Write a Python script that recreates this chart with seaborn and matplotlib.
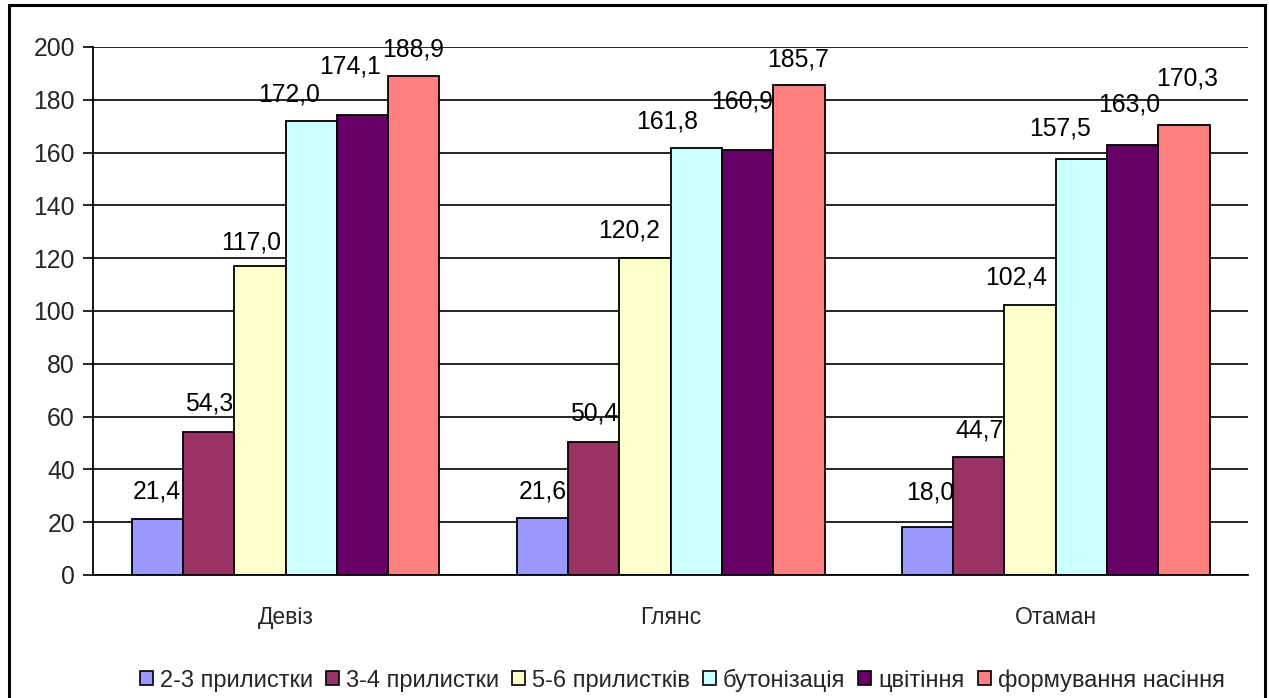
import numpy as np
import pandas as pd
import matplotlib
matplotlib.use("Agg")
import matplotlib.pyplot as plt
import seaborn as sns
from matplotlib.patches import Rectangle

varieties = ["Девіз", "Глянс", "Отаман"]
stages = ["2-3 прилистки", "3-4 прилистки", "5-6 прилистків",
          "бутонізація", "цвітіння", "формування насіння"]
deviz = [21.4, 54.3, 117.0, 172.0, 174.1, 188.9]
hlyans = [21.6, 50.4, 120.2, 161.8, 160.9, 185.7]
otaman = [18.0, 44.7, 102.4, 157.5, 163.0, 170.3]
y_ticks = [0, 20, 40, 60, 80, 100, 120, 140, 160, 180, 200]

colors = ["#9999FF", "#993366", "#FFFFCC", "#CCFFFF", "#660066", "#FF8080"]

# label nudges in pixels (dx, dy above bar top), per variety then stage
label_dx = [[0, 1, -9, -22, -12, -1],
            [1, 1, -16, -29, -5, -1],
            [3, 1, -14, -21, -3, 3]]
label_dy = [[27, 28, 24, 26, 49, 27],
            [26, 28, 27, 26, 49, 25],
            [35, 26, 27, 31, 40, 47]]

rows = []
for v, vals in zip(varieties, [deviz, hlyans, otaman]):
    for s, val in zip(stages, vals):
        rows.append({"variety": v, "stage": s, "value": val})
df = pd.DataFrame(rows)

sns.set_style("white")
plt.rcParams["font.family"] = ["Liberation Sans", "DejaVu Sans"]

W, H = 1269, 698
fig = plt.figure(figsize=(W / 100, H / 100), dpi=100)
ax = fig.add_axes([93 / W, 1 - 575 / H, 1155 / W, 528 / H])

sns.barplot(data=df, x="variety", y="value", hue="stage", order=varieties,
            hue_order=stages, palette=colors, edgecolor="black", linewidth=1.3,
            width=0.8, gap=0, errorbar=None, ax=ax, saturation=1)

ax.set_ylim(0, 200)
ax.set_xlim(-0.5, 2.5)
ax.set_yticks(y_ticks)
ax.set_yticklabels([str(t) for t in y_ticks], fontsize=17.8)
ax.set_axisbelow(True)
ax.yaxis.grid(True, color="black", linewidth=1.2)
ax.xaxis.grid(False)

# category separators as major ticks, names as minor ticks
ax.set_xticks([-0.5, 0.5, 1.5, 2.5])
ax.set_xticklabels(["", "", "", ""])
ax.set_xticks([0, 1, 2], minor=True)
ax.set_xticklabels(varieties, minor=True, fontsize=16.5)
ax.tick_params(axis="x", which="major", direction="out", length=7, width=1.2, color="black")
ax.tick_params(axis="x", which="minor", length=0, pad=22)
ax.tick_params(axis="y", direction="out", length=7, width=1.2, color="black", left=True, pad=6)
ax.set_xlabel("")
ax.set_ylabel("")
for side in ["top", "right"]:
    ax.spines[side].set_visible(False)
for side in ["left", "bottom"]:
    ax.spines[side].set_color("black")
    ax.spines[side].set_linewidth(1.3)

# value labels
px = 0.72
for si, cont in enumerate(ax.containers):
    for vi, bar in enumerate(cont):
        val = bar.get_height()
        ax.annotate(f"{val:.1f}".replace(".", ","),
                    (bar.get_x() + bar.get_width() / 2, val),
                    xytext=(label_dx[vi][si] * px, label_dy[vi][si] * px),
                    textcoords="offset points", ha="center", va="center",
                    fontsize=17.8, color="black")

# legend along the bottom
leg = ax.get_legend()
if leg is not None:
    leg.remove()
handles = [Rectangle((0, 0), 1, 1, facecolor=c, edgecolor="black", linewidth=1.2)
           for c in colors]
fig.legend(handles, stages, loc="center", bbox_to_anchor=(682 / W, 1 - 680 / H),
           ncol=6, frameon=False, fontsize=17, handlelength=0.55, handleheight=0.55,
           handletextpad=0.3, columnspacing=0.55, borderaxespad=0)

# chart frame
fig.add_artist(Rectangle((9 / W, 1 - 702 / H), (1265 - 9) / W, (702 - 5) / H,
                         transform=fig.transFigure, fill=False,
                         edgecolor="black", linewidth=2.2))

fig.savefig("out.png", dpi=100, facecolor="white")
